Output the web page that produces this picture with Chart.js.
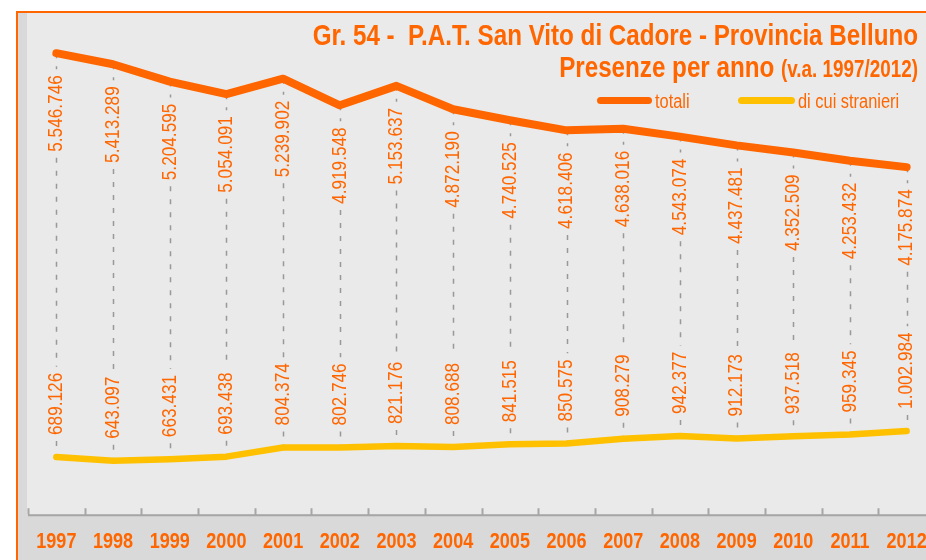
<!DOCTYPE html>
<html>
<head>
<meta charset="utf-8">
<script src="https://cdn.jsdelivr.net/npm/chart.js@4"></script>
<style>
  html, body { margin: 0; padding: 0; background: #fff; overflow: hidden; width: 926px; height: 560px; }
  body { position: relative; font-family: "Liberation Sans", Arial, sans-serif; }
  #frame { position: absolute; left: 16px; top: 11px; width: 942px; height: 547px;
           border-left: 2px solid #ff6600; border-top: 2px solid #ff6600; background: #d9d9d9; }
  #frame canvas { display: block; }
  .title { position: absolute; left: 50px; width: 868px; text-align: right; color: #ff6600;
           font-weight: bold; white-space: pre; line-height: 1; transform: scaleX(0.82); transform-origin: right; }
  #t1 { top: 20px; font-size: 29.5px; }
  #t2 { top: 52px; font-size: 29.5px; }
  #t2 small { font-size: 23px; }
  .leg { position: absolute; height: 7px; border-radius: 4px; top: 97px; }
  .legtxt { position: absolute; top: 91px; font-size: 20px; color: #ff6600; line-height: 1;
            white-space: pre; transform: scaleX(0.82); transform-origin: left; }
</style>
</head>
<body>
<div id="frame"><canvas id="chart" width="942" height="547"></canvas></div>
<div class="title" id="t1">Gr. 54 -  P.A.T. San Vito di Cadore - Provincia Belluno</div>
<div class="title" id="t2">Presenze per anno <small>(v.a. 1997/2012)</small></div>
<div class="leg" style="left:597px;width:55px;background:#ff6600"></div>
<div class="legtxt" style="left:655px">totali</div>
<div class="leg" style="left:738px;width:57px;background:#ffc000"></div>
<div class="legtxt" style="left:798px">di cui stranieri</div>
<script>
const years = ['1997', '1998', '1999', '2000', '2001', '2002', '2003', '2004',
               '2005', '2006', '2007', '2008', '2009', '2010', '2011', '2012'];
const totali = [5546746, 5413289, 5204595, 5054091, 5239902, 4919548, 5153637, 4872190,
                4740525, 4618406, 4638016, 4543074, 4437481, 4352509, 4253432, 4175874];
const stranieri = [689126, 643097, 663431, 693438, 804374, 802746, 821176, 808688,
                   841515, 850575, 908279, 942377, 912173, 937518, 959345, 1002984];

const ORANGE = '#ff6600';
const FONT = '"Liberation Sans", Arial, sans-serif';
const NARROW = 0.82; // squeeze factor, gives a narrow face from the regular one

// 5546746 -> "5.546.746"
const fmt = v => String(v).replace(/\B(?=(\d{3})+(?!\d))/g, '.');

// draws text squeezed horizontally; ctx must already be translated/rotated to the anchor
function narrowText(ctx, text) {
  ctx.save();
  ctx.scale(NARROW, 1);
  ctx.fillText(text, 0, 0);
  ctx.restore();
}

// light plot background, axis line, small ticks and the year labels
const background = {
  id: 'background',
  beforeDraw(chart) {
    const { ctx, chartArea: a, width } = chart;
    ctx.save();
    ctx.fillStyle = '#eaeaea';
    ctx.fillRect(a.left - 1, 0, width - a.left + 1, a.bottom);
    ctx.restore();
  },
  beforeDatasetsDraw(chart) {
    const { ctx, chartArea: a, width } = chart;
    const x = chart.scales.x;
    const step = x.getPixelForValue(1) - x.getPixelForValue(0);
    ctx.save();
    ctx.strokeStyle = '#a6a6a6';
    ctx.lineWidth = 2;
    ctx.beginPath();
    ctx.moveTo(a.left, a.bottom + 1);
    ctx.lineTo(width, a.bottom + 1);
    for (let i = 0; i <= years.length; i++) {
      const px = Math.round(x.getPixelForValue(i) - step / 2) + 0.5;
      ctx.moveTo(px, a.bottom);
      ctx.lineTo(px, a.bottom - 6);
    }
    ctx.stroke();
    ctx.fillStyle = ORANGE;
    ctx.font = 'bold 22px ' + FONT;
    ctx.textAlign = 'center';
    ctx.textBaseline = 'middle';
    years.forEach((y, i) => {
      ctx.save();
      ctx.translate(x.getPixelForValue(i), a.bottom + 28);
      narrowText(ctx, y);
      ctx.restore();
    });
    ctx.restore();
  }
};

// dashed drop line between the two series, with the values written vertically
const dropLabels = {
  id: 'dropLabels',
  beforeDatasetsDraw(chart) {
    const { ctx } = chart;
    const top = chart.getDatasetMeta(0).data;
    const bot = chart.getDatasetMeta(1).data;
    const gap = 22;
    ctx.save();
    ctx.font = '21px ' + FONT;
    ctx.textBaseline = 'middle';
    top.forEach((p, i) => {
      const q = bot[i];
      const t1 = fmt(totali[i]), t2 = fmt(stranieri[i]);
      const w1 = ctx.measureText(t1).width * NARROW, w2 = ctx.measureText(t2).width * NARROW;
      const x = Math.round(p.x) + 0.5;
      const segs = [[p.y, p.y + gap - 6], [p.y + gap + w1 + 6, q.y - gap - w2 - 6], [q.y - gap + 6, q.y]];
      ctx.strokeStyle = '#999';
      ctx.lineWidth = 1.5;
      ctx.setLineDash([5, 8]);
      segs.forEach(([y0, y1]) => {
        if (y1 <= y0) return;
        ctx.beginPath();
        ctx.moveTo(x, y0);
        ctx.lineTo(x, y1);
        ctx.stroke();
      });
      ctx.setLineDash([]);
      ctx.fillStyle = ORANGE;
      ctx.save();
      ctx.translate(p.x, p.y + gap);
      ctx.rotate(-Math.PI / 2);
      ctx.textAlign = 'right';
      narrowText(ctx, t1);
      ctx.restore();
      ctx.save();
      ctx.translate(q.x, q.y - gap);
      ctx.rotate(-Math.PI / 2);
      ctx.textAlign = 'left';
      narrowText(ctx, t2);
      ctx.restore();
    });
    ctx.restore();
  }
};

new Chart(document.getElementById('chart'), {
  type: 'line',
  data: {
    labels: years,
    datasets: [
      { label: 'totali', data: totali, borderColor: ORANGE, borderWidth: 8,
        borderCapStyle: 'round', borderJoinStyle: 'round', pointRadius: 0, tension: 0 },
      { label: 'di cui stranieri', data: stranieri, borderColor: '#ffc000', borderWidth: 6.5,
        borderCapStyle: 'round', borderJoinStyle: 'round', pointRadius: 0, tension: 0 }
    ]
  },
  options: {
    responsive: false,
    animation: false,
    devicePixelRatio: 1,
    layout: { padding: { left: 10, right: 25, top: 2.5, bottom: 0 } },
    plugins: { legend: { display: false }, title: { display: false }, tooltip: { enabled: false } },
    scales: {
      x: {
        type: 'category',
        offset: true,
        grid: { display: false },
        border: { display: false },
        ticks: { display: false },
        afterFit(s) { s.height = 45.7; s.paddingLeft = 0; s.paddingRight = 0; }
      },
      y: { display: false, min: 0, max: 6000000 }
    }
  },
  plugins: [background, dropLabels]
});
</script>
</body>
</html>
